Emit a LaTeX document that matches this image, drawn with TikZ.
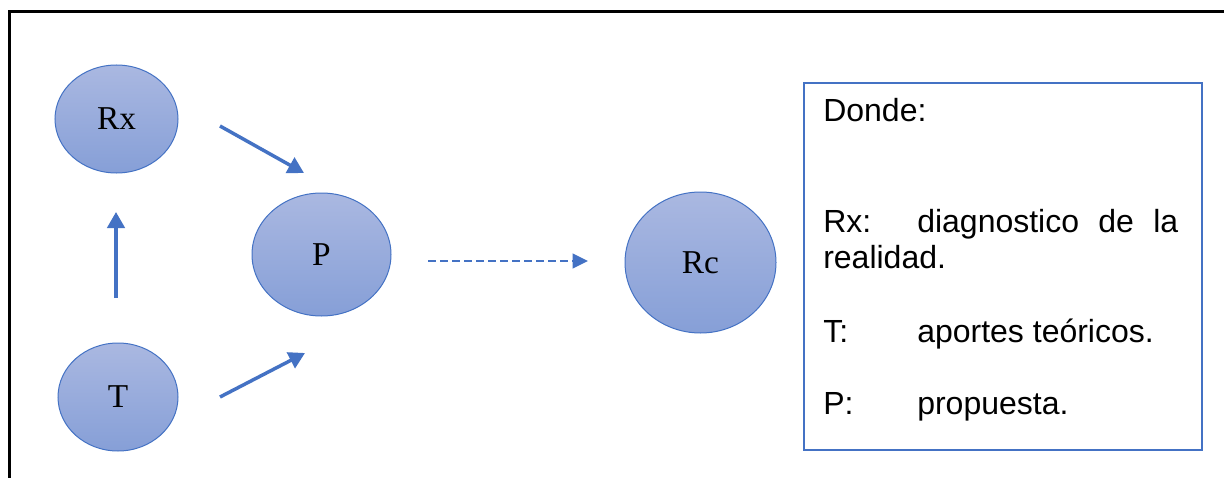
\documentclass[tikz,border=0pt]{standalone}
\usepackage{fontspec}
\setmainfont{Liberation Serif}
\newfontfamily\keyfont{Liberation Sans}
\usetikzlibrary{shapes.geometric, arrows.meta}

\definecolor{officeblue}{RGB}{68,114,196}
\definecolor{bubbletop}{RGB}{170,184,225}
\definecolor{bubblebot}{RGB}{134,159,215}

\begin{document}
\begin{tikzpicture}[
    x=0.75pt, y=-0.75pt, % one unit per pixel, y runs downwards
    bubble/.style={ellipse, draw=officeblue, line width=0.75pt,
        top color=bubbletop, bottom color=bubblebot, inner sep=0pt,
        font=\fontsize{25}{30}\selectfont},
    arr/.style={officeblue, line width=2.6pt, -{Triangle[length=12pt,width=13pt]}},
    dasharr/.style={officeblue, line width=1.3pt, dash pattern=on 6pt off 3pt,
        -{Triangle[length=11.5pt,width=11pt]}},
    keytext/.style={anchor=base west, inner sep=0pt,
        font=\keyfont\fontsize{24}{28}\selectfont}
]
    \useasboundingbox[fill=white] (0,0) rectangle (1224,478);

    % open frame, top and left side only
    \draw[line width=2.25pt] (9,478) -- (9,11.5) -- (1224,11.5);

    % the four bubbles
    \node[bubble, minimum width=92.25pt, minimum height=81pt] (rx) at (116.5,119) {Rx};
    \node[bubble, minimum width=90pt, minimum height=81pt] (t) at (118,397) {T};
    \node[bubble, minimum width=104.25pt, minimum height=92.25pt] (p) at (321.5,254.5) {P};
    \node[bubble, minimum width=113.25pt, minimum height=105.75pt] (rc) at (700.5,262.5) {Rc};

    % loose arrow ends between the bubbles
    \coordinate (rx-out) at (220,126);
    \coordinate (p-in1) at (304,173);
    \coordinate (t-out) at (220,397);
    \coordinate (p-in2) at (305,353);
    \coordinate (t-up) at (116,298);
    \coordinate (rx-in) at (116,212);
    \coordinate (p-out) at (428,261);
    \coordinate (rc-in) at (588,261);

    \draw[arr] (rx-out) -- (p-in1);
    \draw[arr] (t-out) -- (p-in2);
    \draw[arr] (t-up) -- (rx-in);
    \draw[dasharr] (p-out) -- (rc-in);

    % key
    \node[draw=officeblue, line width=1.5pt, minimum width=298.5pt,
        minimum height=275.25pt, inner sep=0pt] (key) at (1003,266.5) {};
    \node[keytext] (donde) at (823,122) {Donde:};
    \node[keytext] (rxkey) at (823,232) {Rx:};
    \node[keytext] (rxdef) at (917,232) {\makebox[195.75pt][s]{diagnostico\hfill de\hfill la}};
    \node[keytext] (rxdef2) at (823,268) {realidad.};
    \node[keytext] (tkey) at (823,342) {T:};
    \node[keytext] (tdef) at (917,342) {aportes teóricos.};
    \node[keytext] (pkey) at (823,414) {P:};
    \node[keytext] (pdef) at (917,414) {propuesta.};
\end{tikzpicture}
\end{document}
